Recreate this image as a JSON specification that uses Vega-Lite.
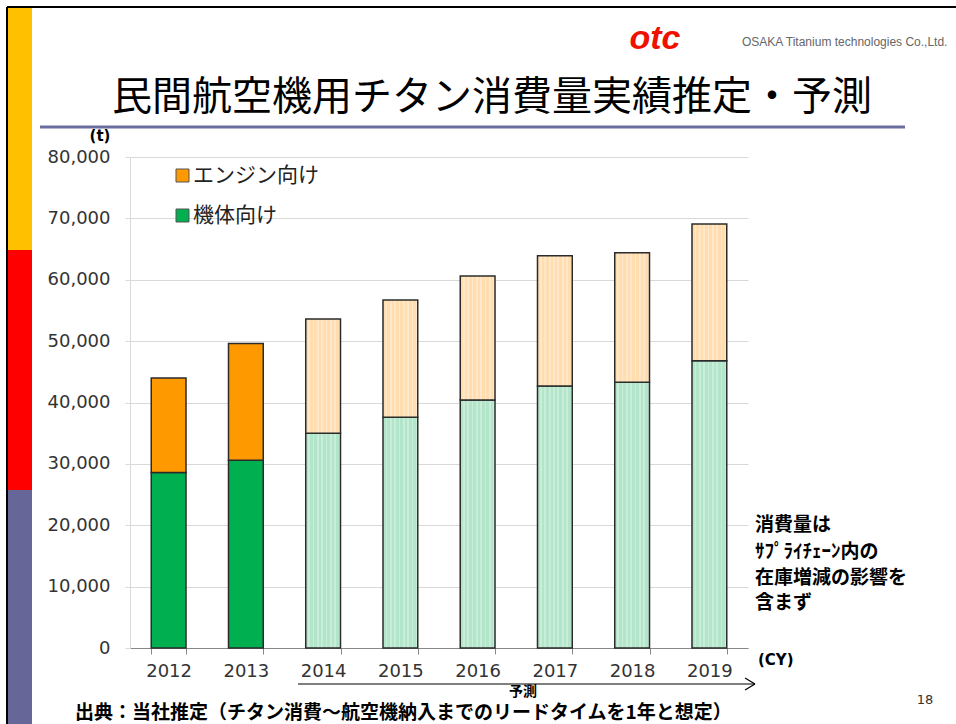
{
  "$schema": "https://vega.github.io/schema/vega-lite/v6.json",
  "autosize": {"type": "none"},
  "width": 618,
  "height": 491,
  "padding": {"left": 130, "top": 157, "right": 208, "bottom": 76},
  "background": "#ffffff",
  "config": {"view": {"stroke": null}},
  "data": {
    "values": [
      {"year": "2012", "part": "機体向け", "type": "実績", "ord": 1, "value": 28600},
      {"year": "2012", "part": "エンジン向け", "type": "実績", "ord": 2, "value": 15400},
      {"year": "2013", "part": "機体向け", "type": "実績", "ord": 1, "value": 30600},
      {"year": "2013", "part": "エンジン向け", "type": "実績", "ord": 2, "value": 19000},
      {"year": "2014", "part": "機体向け", "type": "予測", "ord": 1, "value": 35000},
      {"year": "2014", "part": "エンジン向け", "type": "予測", "ord": 2, "value": 18600},
      {"year": "2015", "part": "機体向け", "type": "予測", "ord": 1, "value": 37600},
      {"year": "2015", "part": "エンジン向け", "type": "予測", "ord": 2, "value": 19100},
      {"year": "2016", "part": "機体向け", "type": "予測", "ord": 1, "value": 40400},
      {"year": "2016", "part": "エンジン向け", "type": "予測", "ord": 2, "value": 20200},
      {"year": "2017", "part": "機体向け", "type": "予測", "ord": 1, "value": 42700},
      {"year": "2017", "part": "エンジン向け", "type": "予測", "ord": 2, "value": 21200},
      {"year": "2018", "part": "機体向け", "type": "予測", "ord": 1, "value": 43300},
      {"year": "2018", "part": "エンジン向け", "type": "予測", "ord": 2, "value": 21100},
      {"year": "2019", "part": "機体向け", "type": "予測", "ord": 1, "value": 46800},
      {"year": "2019", "part": "エンジン向け", "type": "予測", "ord": 2, "value": 22300}
    ]
  },
  "layer": [
    {
      "transform": [{"filter": "datum.type === '実績'"}],
      "mark": {"type": "bar", "stroke": "#2b2b2b", "strokeWidth": 1.5},
      "encoding": {
        "x": {
          "field": "year", "type": "nominal", "sort": ["2012","2013","2014","2015","2016","2017","2018","2019"],
          "scale": {"domain": ["2012","2013","2014","2015","2016","2017","2018","2019"], "paddingInner": 0.55, "paddingOuter": 0.275},
          "axis": {"title": null, "labelAngle": 0, "labelFont": "DejaVu Sans", "labelFontSize": 18, "labelColor": "#333333", "labelPadding": 8, "domainColor": "#888888", "tickColor": "#888888", "tickSize": 6, "tickBand": "extent"}
        },
        "y": {
          "field": "value", "type": "quantitative", "aggregate": "sum", "stack": "zero",
          "scale": {"domain": [0, 80000], "nice": false},
          "axis": {"title": null, "values": [0,10000,20000,30000,40000,50000,60000,70000,80000], "format": ",.0f", "labelFont": "DejaVu Sans", "labelFontSize": 18, "labelColor": "#333333", "labelPadding": 15, "tickSize": 5, "tickColor": "#D9D9D9", "domainColor": "#D9D9D9", "gridColor": "#D9D9D9", "grid": true}
        },
        "fill": {"field": "part", "type": "nominal", "scale": {"domain": ["機体向け", "エンジン向け"], "range": ["#00B050", "#FF9900"]}, "legend": null},
        "order": {"field": "ord", "type": "quantitative"}
      }
    },
    {
      "transform": [{"filter": "datum.type === '予測'"}],
      "mark": {"type": "bar", "stroke": "#2b2b2b", "strokeWidth": 1.5},
      "encoding": {
        "x": {"field": "year", "type": "nominal"},
        "y": {"field": "value", "type": "quantitative", "aggregate": "sum", "stack": "zero"},
        "detail": {"field": "part", "type": "nominal"},
        "order": {"field": "ord", "type": "quantitative"},
        "fill": {
          "condition": {
            "test": "datum.part === '機体向け'",
            "value": {"gradient": "linear", "x1": 0, "y1": 0, "x2": 1, "y2": 0, "stops": [
              {"offset": 0, "color": "#B3E5CA"}, {"offset": 0.075, "color": "#B3E5CA"}, {"offset": 0.075, "color": "#C8EDD9"}, {"offset": 0.125, "color": "#C8EDD9"},
              {"offset": 0.125, "color": "#B3E5CA"}, {"offset": 0.2, "color": "#B3E5CA"}, {"offset": 0.2, "color": "#C8EDD9"}, {"offset": 0.25, "color": "#C8EDD9"},
              {"offset": 0.25, "color": "#B3E5CA"}, {"offset": 0.325, "color": "#B3E5CA"}, {"offset": 0.325, "color": "#C8EDD9"}, {"offset": 0.375, "color": "#C8EDD9"},
              {"offset": 0.375, "color": "#B3E5CA"}, {"offset": 0.45, "color": "#B3E5CA"}, {"offset": 0.45, "color": "#C8EDD9"}, {"offset": 0.5, "color": "#C8EDD9"},
              {"offset": 0.5, "color": "#B3E5CA"}, {"offset": 0.575, "color": "#B3E5CA"}, {"offset": 0.575, "color": "#C8EDD9"}, {"offset": 0.625, "color": "#C8EDD9"},
              {"offset": 0.625, "color": "#B3E5CA"}, {"offset": 0.7, "color": "#B3E5CA"}, {"offset": 0.7, "color": "#C8EDD9"}, {"offset": 0.75, "color": "#C8EDD9"},
              {"offset": 0.75, "color": "#B3E5CA"}, {"offset": 0.825, "color": "#B3E5CA"}, {"offset": 0.825, "color": "#C8EDD9"}, {"offset": 0.875, "color": "#C8EDD9"},
              {"offset": 0.875, "color": "#B3E5CA"}, {"offset": 0.95, "color": "#B3E5CA"}, {"offset": 0.95, "color": "#C8EDD9"}, {"offset": 1, "color": "#C8EDD9"}
            ]}
          },
          "value": {"gradient": "linear", "x1": 0, "y1": 0, "x2": 1, "y2": 0, "stops": [
            {"offset": 0, "color": "#FFDDAE"}, {"offset": 0.075, "color": "#FFDDAE"}, {"offset": 0.075, "color": "#FFE8C9"}, {"offset": 0.125, "color": "#FFE8C9"},
            {"offset": 0.125, "color": "#FFDDAE"}, {"offset": 0.2, "color": "#FFDDAE"}, {"offset": 0.2, "color": "#FFE8C9"}, {"offset": 0.25, "color": "#FFE8C9"},
            {"offset": 0.25, "color": "#FFDDAE"}, {"offset": 0.325, "color": "#FFDDAE"}, {"offset": 0.325, "color": "#FFE8C9"}, {"offset": 0.375, "color": "#FFE8C9"},
            {"offset": 0.375, "color": "#FFDDAE"}, {"offset": 0.45, "color": "#FFDDAE"}, {"offset": 0.45, "color": "#FFE8C9"}, {"offset": 0.5, "color": "#FFE8C9"},
            {"offset": 0.5, "color": "#FFDDAE"}, {"offset": 0.575, "color": "#FFDDAE"}, {"offset": 0.575, "color": "#FFE8C9"}, {"offset": 0.625, "color": "#FFE8C9"},
            {"offset": 0.625, "color": "#FFDDAE"}, {"offset": 0.7, "color": "#FFDDAE"}, {"offset": 0.7, "color": "#FFE8C9"}, {"offset": 0.75, "color": "#FFE8C9"},
            {"offset": 0.75, "color": "#FFDDAE"}, {"offset": 0.825, "color": "#FFDDAE"}, {"offset": 0.825, "color": "#FFE8C9"}, {"offset": 0.875, "color": "#FFE8C9"},
            {"offset": 0.875, "color": "#FFDDAE"}, {"offset": 0.95, "color": "#FFDDAE"}, {"offset": 0.95, "color": "#FFE8C9"}, {"offset": 1, "color": "#FFE8C9"}
          ]}
        }
      }
    },
    {"data": {"values": [{}]}, "mark": {"type": "rect", "fill": "#FFC000"}, "encoding": {"x": {"value": -122}, "x2": {"value": -98}, "y": {"value": -149}, "y2": {"value": 93}}},
    {"data": {"values": [{}]}, "mark": {"type": "rect", "fill": "#FF0000"}, "encoding": {"x": {"value": -122}, "x2": {"value": -98}, "y": {"value": 93}, "y2": {"value": 333}}},
    {"data": {"values": [{}]}, "mark": {"type": "rect", "fill": "#666699"}, "encoding": {"x": {"value": -122}, "x2": {"value": -98}, "y": {"value": 333}, "y2": {"value": 567}}},
    {"data": {"values": [{}]}, "mark": {"type": "rule", "stroke": "#000000", "strokeWidth": 2}, "encoding": {"x": {"value": -123}, "x2": {"value": 826}, "y": {"value": -150}, "y2": {"value": -150}}},
    {"data": {"values": [{}]}, "mark": {"type": "rule", "stroke": "#000000", "strokeWidth": 2}, "encoding": {"x": {"value": -123}, "x2": {"value": -123}, "y": {"value": -150}, "y2": {"value": 567}}},
    {"data": {"values": [{}]}, "mark": {"type": "rule", "stroke": "#6B6FA0", "strokeWidth": 3}, "encoding": {"x": {"value": -90}, "x2": {"value": 775}, "y": {"value": -30}, "y2": {"value": -30}}},
    {"data": {"values": [{}]}, "mark": {"type": "text", "text": "民間航空機用チタン消費量実績推定・予測", "font": "Noto Sans CJK JP", "fontSize": 40, "align": "center", "baseline": "middle", "color": "#000000"}, "encoding": {"x": {"value": 362}, "y": {"value": -59}}},
    {"data": {"values": [{}]}, "mark": {"type": "text", "text": "otc", "font": "Liberation Sans", "fontSize": 34, "fontWeight": "bold", "fontStyle": "italic", "align": "center", "baseline": "middle", "color": "#EE1100"}, "encoding": {"x": {"value": 525}, "y": {"value": -118}}},
    {"data": {"values": [{}]}, "mark": {"type": "text", "text": "OSAKA Titanium technologies Co.,Ltd.", "font": "Liberation Sans", "fontSize": 12, "align": "left", "baseline": "middle", "color": "#666666"}, "encoding": {"x": {"value": 612}, "y": {"value": -115}}},
    {"data": {"values": [{}]}, "mark": {"type": "text", "text": "(t)", "font": "DejaVu Sans", "fontSize": 15, "fontWeight": "bold", "align": "center", "baseline": "middle", "color": "#000000"}, "encoding": {"x": {"value": -30}, "y": {"value": -21}}},
    {"data": {"values": [{}]}, "mark": {"type": "rect", "fill": "#FF9900", "stroke": "#555555", "strokeWidth": 1}, "encoding": {"x": {"value": 46}, "x2": {"value": 59}, "y": {"value": 12}, "y2": {"value": 25}}},
    {"data": {"values": [{}]}, "mark": {"type": "rect", "fill": "#00B050", "stroke": "#555555", "strokeWidth": 1}, "encoding": {"x": {"value": 46}, "x2": {"value": 59}, "y": {"value": 52}, "y2": {"value": 65}}},
    {"data": {"values": [{}]}, "mark": {"type": "text", "text": "エンジン向け", "font": "Noto Sans CJK JP", "fontSize": 21, "align": "left", "baseline": "middle", "color": "#222222"}, "encoding": {"x": {"value": 63}, "y": {"value": 19}}},
    {"data": {"values": [{}]}, "mark": {"type": "text", "text": "機体向け", "font": "Noto Sans CJK JP", "fontSize": 21, "align": "left", "baseline": "middle", "color": "#222222"}, "encoding": {"x": {"value": 63}, "y": {"value": 59}}},
    {"data": {"values": [{}]}, "mark": {"type": "text", "text": "消費量は", "font": "Noto Sans CJK JP", "fontSize": 19, "fontWeight": "bold", "align": "left", "baseline": "middle", "color": "#000000"}, "encoding": {"x": {"value": 625}, "y": {"value": 368}}},
    {"data": {"values": [{}]}, "mark": {"type": "text", "text": "ｻﾌﾟﾗｲﾁｪｰﾝ内の", "font": "Noto Sans CJK JP", "fontSize": 19, "fontWeight": "bold", "align": "left", "baseline": "middle", "color": "#000000"}, "encoding": {"x": {"value": 625}, "y": {"value": 395}}},
    {"data": {"values": [{}]}, "mark": {"type": "text", "text": "在庫増減の影響を", "font": "Noto Sans CJK JP", "fontSize": 19, "fontWeight": "bold", "align": "left", "baseline": "middle", "color": "#000000"}, "encoding": {"x": {"value": 625}, "y": {"value": 421}}},
    {"data": {"values": [{}]}, "mark": {"type": "text", "text": "含まず", "font": "Noto Sans CJK JP", "fontSize": 19, "fontWeight": "bold", "align": "left", "baseline": "middle", "color": "#000000"}, "encoding": {"x": {"value": 625}, "y": {"value": 446}}},
    {"data": {"values": [{}]}, "mark": {"type": "text", "text": "(CY)", "font": "DejaVu Sans", "fontSize": 15, "fontWeight": "bold", "align": "left", "baseline": "middle", "color": "#000000"}, "encoding": {"x": {"value": 628}, "y": {"value": 503}}},
    {"data": {"values": [{}]}, "mark": {"type": "rule", "stroke": "#000000", "strokeWidth": 1.2}, "encoding": {"x": {"value": 168}, "x2": {"value": 625}, "y": {"value": 527}, "y2": {"value": 527}}},
    {"data": {"values": [{}]}, "mark": {"type": "rule", "stroke": "#000000", "strokeWidth": 1.2}, "encoding": {"x": {"value": 615}, "x2": {"value": 625}, "y": {"value": 521}, "y2": {"value": 527}}},
    {"data": {"values": [{}]}, "mark": {"type": "rule", "stroke": "#000000", "strokeWidth": 1.2}, "encoding": {"x": {"value": 615}, "x2": {"value": 625}, "y": {"value": 533}, "y2": {"value": 527}}},
    {"data": {"values": [{}]}, "mark": {"type": "text", "text": "予測", "font": "Noto Sans CJK JP", "fontSize": 14, "fontWeight": "bold", "align": "center", "baseline": "middle", "color": "#000000"}, "encoding": {"x": {"value": 393}, "y": {"value": 535}}},
    {"data": {"values": [{}]}, "mark": {"type": "text", "text": "出典：当社推定（チタン消費～航空機納入までのリードタイムを1年と想定）", "font": "Noto Sans CJK JP", "fontSize": 19, "fontWeight": "bold", "align": "left", "baseline": "middle", "color": "#000000"}, "encoding": {"x": {"value": -55}, "y": {"value": 556}}},
    {"data": {"values": [{}]}, "mark": {"type": "text", "text": "18", "font": "DejaVu Sans", "fontSize": 13, "align": "center", "baseline": "middle", "color": "#333333"}, "encoding": {"x": {"value": 795}, "y": {"value": 543}}}
  ]
}
